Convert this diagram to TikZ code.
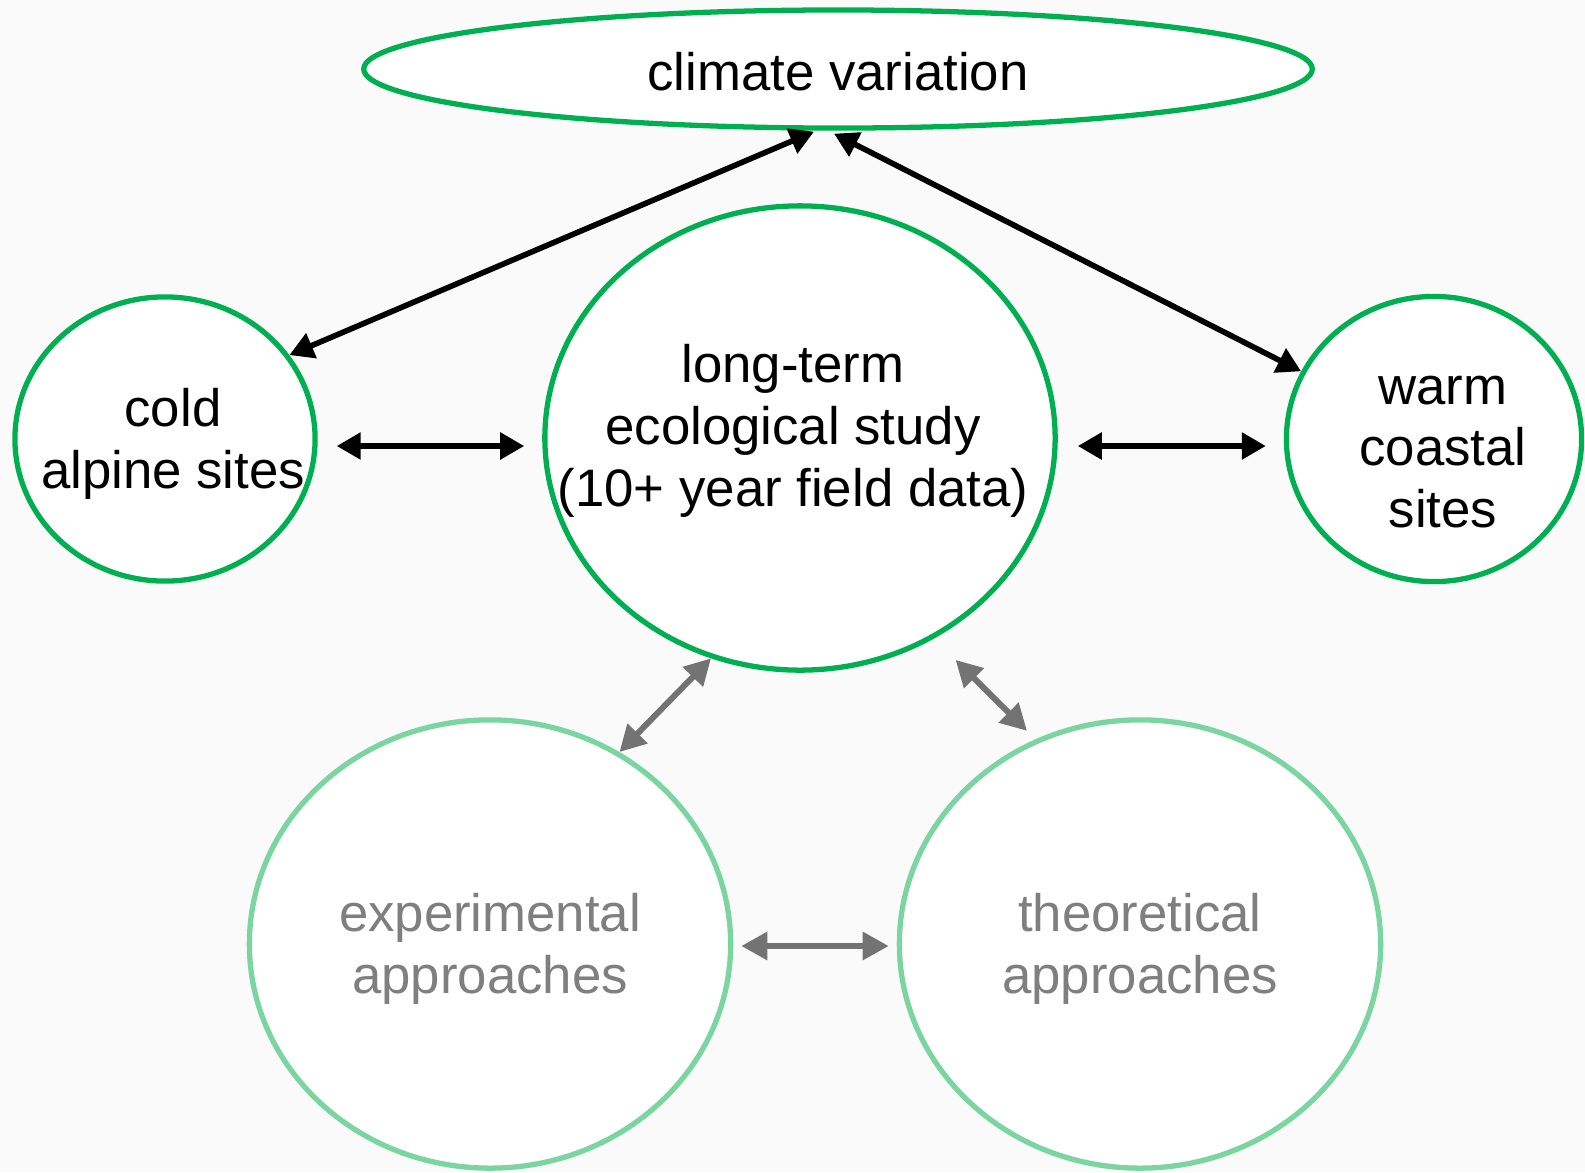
\documentclass[tikz,border=0pt]{standalone}
\usepackage{fontspec}
\setmainfont{Liberation Sans}
\usetikzlibrary{shapes.geometric,arrows.meta,calc}
\definecolor{ringgreen}{RGB}{0,176,80}
\definecolor{palegreen}{RGB}{122,213,160}
\definecolor{softgray}{RGB}{127,127,127}
\definecolor{arrowgray}{RGB}{115,115,115}
\definecolor{paper}{RGB}{250,250,250}
\tikzset{
  bubble/.style={ellipse, draw=ringgreen, line width=1.5pt, fill=white, inner sep=0pt},
  palebubble/.style={bubble, draw=palegreen},
  txt/.style={align=center, inner sep=0pt, font=\fontsize{15}{17.6}\selectfont},
  paletxt/.style={txt, text=softgray},
  blackarrow/.style={<->, >={Triangle[length=2.4mm, width=2.6mm]}, line width=1.6pt},
  grayarrow/.style={<->, >={Triangle[length=2.6mm, width=2.7mm]}, line width=1.7pt, draw=arrowgray, fill=arrowgray}
}
\begin{document}
\begin{tikzpicture}[x=0.01cm, y=-0.01cm]
  \path[use as bounding box, fill=paper] (0,0) rectangle (1585,1172);
  \node[bubble, minimum width=9.48cm, minimum height=1.18cm] (clim) at (838,69) {};
  \node[bubble, minimum width=3.00cm, minimum height=2.84cm] (cold) at (165,439) {};
  \node[bubble, minimum width=5.10cm, minimum height=4.64cm] (ltes) at (800,438) {};
  \node[bubble, minimum width=2.95cm, minimum height=2.85cm] (warm) at (1434,439) {};
  \node[palebubble, minimum width=4.81cm, minimum height=4.48cm] (expa) at (490,944) {};
  \node[palebubble, minimum width=4.81cm, minimum height=4.48cm] (theo) at (1140,944) {};
  \node[txt] (climtxt) at (838,72) {climate variation};
  \node[txt] (coldtxt) at (173,444) {cold\\alpine sites};
  \node[txt] (ltestxt) at (793,431) {long-term\\ecological study\\(10+ year field data)};
  \node[txt] (warmtxt) at (1443,452) {warm\\coastal\\sites};
  \node[paletxt] (expatxt) at (490,949) {experimental\\approaches};
  \node[paletxt] (theotxt) at (1140,949) {theoretical\\approaches};
  \draw[blackarrow] ($(clim.south)+(-24,1)$) -- (cold.34);
  \draw[blackarrow] ($(clim.south)+(-4,3)$) -- (warm.153);
  \draw[blackarrow] ($(cold.east)+(19,7)$) -- ($(ltes.west)+(-18,8)$);
  \draw[blackarrow] ($(ltes.east)+(20,8)$) -- ($(warm.west)+(-18,7)$);
  \draw[grayarrow] (ltes.248) -- (expa.56);
  \draw[grayarrow] ($(ltes.-55)+(17,24)$) -- ($(theo.118)+(-5,-10)$);
  \draw[grayarrow] ($(expa.east)+(8,2)$) -- ($(theo.west)+(-8,2)$);
\end{tikzpicture}
\end{document}
